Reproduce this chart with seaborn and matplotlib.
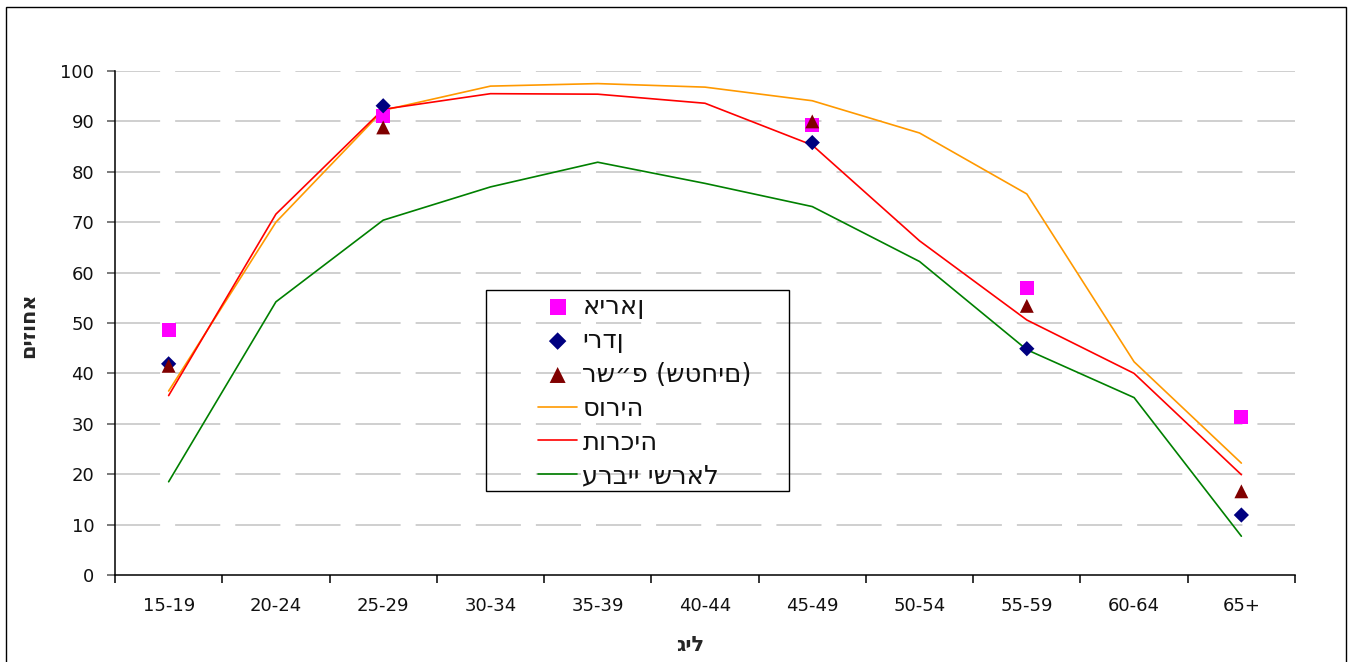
import numpy as np
import pandas as pd
import matplotlib
matplotlib.use("Agg")
import matplotlib.pyplot as plt
import seaborn as sns
from matplotlib.patches import Rectangle

# age groups
age_groups = ["15-19", "20-24", "25-29", "30-34", "35-39", "40-44",
              "45-49", "50-54", "55-59", "60-64", "65+"]

# line series (all age groups)
syria = [36.5, 70.0, 92.2, 97.0, 97.5, 96.8, 94.1, 87.7, 75.6, 42.3, 22.2]
turkey = [35.6, 71.6, 92.4, 95.5, 95.4, 93.6, 85.3, 66.3, 50.6, 40.0, 19.9]
israeli_arabs = [18.5, 54.2, 70.4, 77.0, 81.9, 77.7, 73.1, 62.2, 44.7, 35.2, 7.7]

# point series (only some age groups)
point_groups = ["15-19", "25-29", "45-49", "55-59", "65+"]
iran = [48.6, 91.1, 89.2, 57.0, 31.4]
jordan = [41.9, 93.1, 85.8, 44.9, 11.9]
pa = [41.5, 88.8, 90.0, 53.4, 16.6]

# labels (the reference shows the Hebrew glyphs in stored order, left to right)
names = {
    "iran": "איראן",
    "jordan": "ירדן",
    "pa": "רש״פ (שטחים)",
    "syria": "סוריה",
    "turkey": "תורכיה",
    "arabs": "ערביי ישראל",
}
x_title = "גיל"
y_title = "אחוזים"[::-1]

sns.set_style("white")
plt.rcParams["font.family"] = ["DejaVu Sans"]

W, H = 1352, 662
fig = plt.figure(figsize=(W / 100, H / 100), dpi=100)
ax = fig.add_axes([115 / W, 87 / H, 1180 / W, 504 / H])

pos = {g: i for i, g in enumerate(age_groups)}
x_all = np.arange(len(age_groups))
x_pts = [pos[g] for g in point_groups]

ax.set_xlim(-0.5, len(age_groups) - 0.5)
ax.set_ylim(0, 100)

# dashed gridlines
for v in range(10, 101, 10):
    ax.axhline(v, color="#cccccc", lw=1.3, ls=(0, (25, 8.3)), zorder=0)

# scatter series
sns.scatterplot(x=x_pts, y=iran, marker="s", s=100, color="#ff00ff",
                edgecolor="none", label=names["iran"], ax=ax, zorder=4)
sns.scatterplot(x=x_pts, y=jordan, marker="D", s=60, color="#000080",
                edgecolor="none", label=names["jordan"], ax=ax, zorder=5)
sns.scatterplot(x=x_pts, y=pa, marker="^", s=100, color="#800000",
                edgecolor="none", label=names["pa"], ax=ax, zorder=6)

# line series
sns.lineplot(x=x_all, y=syria, color="#ff9900", lw=1.2,
             label=names["syria"], ax=ax, zorder=3)
sns.lineplot(x=x_all, y=turkey, color="#ff0000", lw=1.2,
             label=names["turkey"], ax=ax, zorder=3)
sns.lineplot(x=x_all, y=israeli_arabs, color="#008000", lw=1.2,
             label=names["arabs"], ax=ax, zorder=3)

# axes styling
for s in ["top", "right"]:
    ax.spines[s].set_visible(False)
for s in ["left", "bottom"]:
    ax.spines[s].set_color("black")
    ax.spines[s].set_linewidth(1.1)

ax.set_yticks(range(0, 101, 10))
ax.tick_params(axis="y", length=6, width=1.1, color="#555555", pad=9,
               labelsize=13, left=True)
ax.set_xticks(x_all)
ax.set_xticklabels(age_groups)
ax.set_xticks(np.arange(-0.5, len(age_groups), 1), minor=True)
ax.tick_params(axis="x", which="major", length=0, pad=16, labelsize=13)
ax.tick_params(axis="x", which="minor", length=6, width=1.1, color="black",
               bottom=True)
for lab in ax.get_xticklabels() + ax.get_yticklabels():
    lab.set_color("#111111")

ax.set_xlabel(x_title, fontsize=15, fontweight="bold",
              family=["DejaVu Sans"])
ax.xaxis.set_label_coords((690 - 115) / 1180, (575 - 635) / 504)
ax.set_ylabel(y_title, fontsize=15, fontweight="bold", rotation=90,
              family=["DejaVu Sans"], va="center", ha="center")
ax.yaxis.set_label_coords((28 - 115) / 1180, (575 - 325) / 504)

# legend: frame drawn separately so the entries can sit inside a wide box
leg = ax.legend(loc="upper left", bbox_to_anchor=(538 / W, (H - 294) / H),
                bbox_transform=fig.transFigure, frameon=False, borderpad=0,
                borderaxespad=0, labelspacing=0.305, handlelength=1.52,
                handletextpad=0.2, markerscale=1.15,
                prop={"family": ["DejaVu Sans"], "size": 18.6})
for t in leg.get_texts():
    t.set_color("#111111")
fig.patches.append(Rectangle((486 / W, (H - 491) / H), 303 / W, 201 / H,
                             transform=fig.transFigure, fill=False,
                             edgecolor="black", lw=1.0, zorder=10))

# outer frame
fig.patches.append(Rectangle((6 / W, -0.05), 1340 / W, (655 / H) + 0.05,
                             transform=fig.transFigure, fill=False,
                             edgecolor="black", lw=1.0))

fig.savefig("out.png", dpi=100)
